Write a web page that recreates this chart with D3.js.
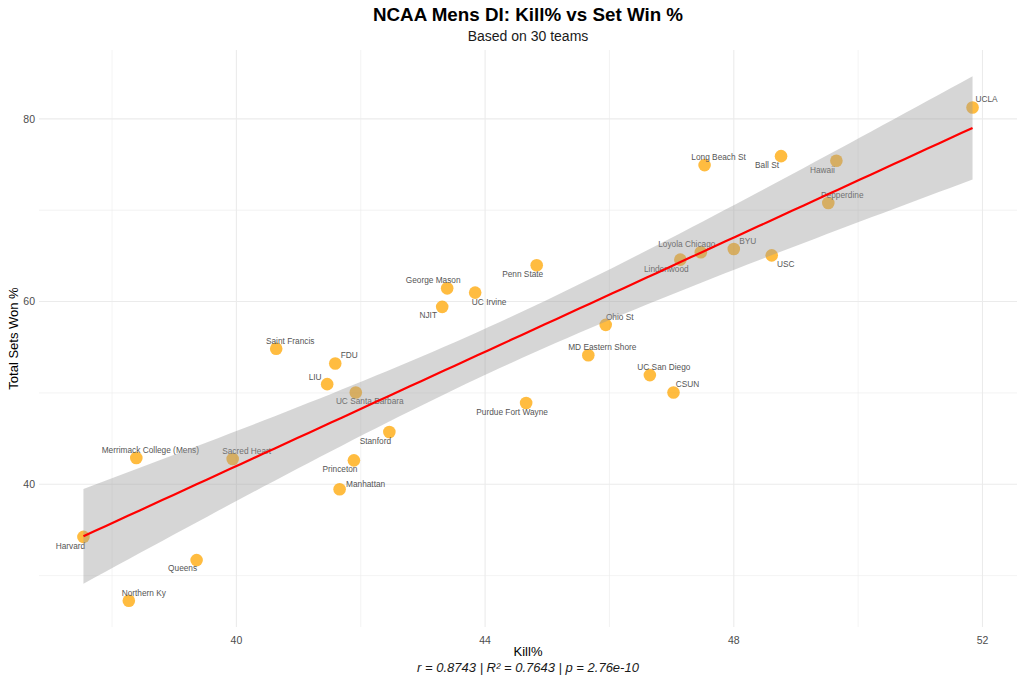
<!DOCTYPE html>
<html>
<head>
<meta charset="utf-8">
<script src="https://cdn.jsdelivr.net/npm/d3@7"></script>
<style>
  body { margin: 0; background: #fff; }
  text { font-family: "Liberation Sans", Arial, sans-serif; }
</style>
</head>
<body>
<svg id="chart"></svg>
<script>
const width = 1024;
const height = 683;

// Data
const teams = [
  "Harvard", "Merrimack College (Mens)", "Sacred Heart", "Queens", "Northern Ky",
  "Manhattan", "Princeton", "Stanford", "UC Santa Barbara", "Saint Francis",
  "FDU", "LIU", "NJIT", "George Mason", "UC Irvine",
  "Penn State", "Purdue Fort Wayne", "Ohio St", "MD Eastern Shore", "UC San Diego",
  "CSUN", "UCLA", "Long Beach St", "Ball St", "Hawaii",
  "Pepperdine", "BYU", "USC", "Loyola Chicago", "Lindenwood"
];
const killPct = [
  37.54, 38.39, 39.94, 39.36, 38.27,
  41.66, 41.89, 42.46, 41.92, 40.64,
  41.59, 41.46, 43.31, 43.39, 43.84,
  44.83, 44.66, 45.94, 45.66, 46.65,
  47.03, 51.84, 47.53, 48.76, 49.65,
  49.52, 48.00, 48.61, 47.47, 47.14
];
const setWinPct = [
  34.24, 42.87, 42.77, 31.70, 27.25,
  39.45, 42.62, 45.72, 50.05, 54.83,
  53.22, 50.96, 59.42, 61.45, 60.98,
  63.97, 48.89, 57.45, 54.13, 51.95,
  50.05, 81.24, 74.94, 75.92, 75.41,
  70.79, 65.76, 65.06, 65.40, 64.59
];
const xTicks = [40, 44, 48, 52];
const xMinor = [38, 42, 46, 50];
const yTicks = [40, 60, 80];
const yMinor = [30, 50, 70];

// label nudges (px), mimicking the repelled labels
const labelNudge = [
  [-13, 9], [14, -8], [14, -8], [-14, 8], [15, -8],
  [26, -5], [-14, 9], [-14, 9], [14, 9], [14, -8],
  [14, -8], [-12, -7], [-14, 8], [-14, -8], [14, 9],
  [-14, 9], [-14, 9], [14, -8], [14, -8], [14, -8],
  [14, -8], [14, -8], [14, -8], [-14, 9], [-14, 9],
  [14, -8], [14, -8], [14, 9], [-14, -8], [-14, 9]
];

const data = teams.map((t, i) => ({ team: t, x: killPct[i], y: setWinPct[i], nudge: labelNudge[i] }));

// linear fit with 95% confidence band
const n = data.length;
const xbar = d3.mean(data, d => d.x);
const ybar = d3.mean(data, d => d.y);
const sxx = d3.sum(data, d => (d.x - xbar) ** 2);
const sxy = d3.sum(data, d => (d.x - xbar) * (d.y - ybar));
const slope = sxy / sxx;
const intercept = ybar - slope * xbar;
const sse = d3.sum(data, d => (d.y - (intercept + slope * d.x)) ** 2);
const sigma = Math.sqrt(sse / (n - 2));
const tCrit = 2.0484; // t(0.975, 28)

const xExtent = d3.extent(data, d => d.x);
const band = d3.range(80).map(i => {
  const x = xExtent[0] + (xExtent[1] - xExtent[0]) * i / 79;
  const fit = intercept + slope * x;
  const se = sigma * Math.sqrt(1 / n + (x - xbar) ** 2 / sxx);
  return { x, fit, lo: fit - tCrit * se, hi: fit + tCrit * se };
});

// panel
const margin = { top: 50, right: 7, bottom: 56, left: 39 };
const svg = d3.select("#chart").attr("width", width).attr("height", height);

const expand = (lo, hi) => { const p = (hi - lo) * 0.05; return [lo - p, hi + p]; };
const yLo = Math.min(d3.min(data, d => d.y), d3.min(band, d => d.lo));
const yHi = Math.max(d3.max(data, d => d.y), d3.max(band, d => d.hi));

const x = d3.scaleLinear().domain(expand(xExtent[0], xExtent[1])).range([margin.left, width - margin.right]);
const y = d3.scaleLinear().domain(expand(yLo, yHi)).range([height - margin.bottom, margin.top]);

// gridlines
const grid = svg.append("g");
grid.selectAll(".xminor").data(xMinor).join("line")
  .attr("x1", d => x(d)).attr("x2", d => x(d))
  .attr("y1", margin.top).attr("y2", height - margin.bottom)
  .attr("stroke", "#ebebeb").attr("stroke-width", 0.6);
grid.selectAll(".yminor").data(yMinor).join("line")
  .attr("y1", d => y(d)).attr("y2", d => y(d))
  .attr("x1", margin.left).attr("x2", width - margin.right)
  .attr("stroke", "#ebebeb").attr("stroke-width", 0.6);
grid.selectAll(".xmajor").data(xTicks).join("line")
  .attr("x1", d => x(d)).attr("x2", d => x(d))
  .attr("y1", margin.top).attr("y2", height - margin.bottom)
  .attr("stroke", "#ebebeb").attr("stroke-width", 1.1);
grid.selectAll(".ymajor").data(yTicks).join("line")
  .attr("y1", d => y(d)).attr("y2", d => y(d))
  .attr("x1", margin.left).attr("x2", width - margin.right)
  .attr("stroke", "#ebebeb").attr("stroke-width", 1.1);

// axes labels (ticks)
svg.append("g").selectAll("text").data(xTicks).join("text")
  .attr("x", d => x(d)).attr("y", height - margin.bottom + 17)
  .attr("text-anchor", "middle").attr("font-size", "10.5px").attr("fill", "#4d4d4d")
  .text(d => d);
svg.append("g").selectAll("text").data(yTicks).join("text")
  .attr("x", margin.left - 4).attr("y", d => y(d) + 3.8)
  .attr("text-anchor", "end").attr("font-size", "10.5px").attr("fill", "#4d4d4d")
  .text(d => d);

// points
svg.append("g").selectAll("circle").data(data).join("circle")
  .attr("cx", d => x(d.x)).attr("cy", d => y(d.y)).attr("r", 6.3)
  .attr("fill", "#ffa500").attr("fill-opacity", 0.75);

// point labels
svg.append("g").selectAll("text").data(data).join("text")
  .attr("x", d => x(d.x) + d.nudge[0]).attr("y", d => y(d.y) + d.nudge[1] + 2.9)
  .attr("text-anchor", "middle").attr("font-size", "8.3px").attr("fill", "#555")
  .text(d => d.team);

// confidence band + fit line
svg.append("path").datum(band)
  .attr("d", d3.area().x(d => x(d.x)).y0(d => y(d.lo)).y1(d => y(d.hi)))
  .attr("fill", "#999999").attr("fill-opacity", 0.4);
svg.append("path").datum(band)
  .attr("d", d3.line().x(d => x(d.x)).y(d => y(d.fit)))
  .attr("fill", "none").attr("stroke", "red").attr("stroke-width", 2.2);

// titles
const cx = (margin.left + width - margin.right) / 2;
svg.append("text").attr("x", cx).attr("y", 21).attr("text-anchor", "middle")
  .attr("font-size", "18.8px").attr("font-weight", "bold").attr("fill", "#000")
  .text("NCAA Mens DI: Kill% vs Set Win %");
svg.append("text").attr("x", cx).attr("y", 41).attr("text-anchor", "middle")
  .attr("font-size", "14px").attr("fill", "#1a1a1a")
  .text("Based on 30 teams");
svg.append("text").attr("x", cx).attr("y", 656).attr("text-anchor", "middle")
  .attr("font-size", "13px").attr("fill", "#000")
  .text("Kill%");
svg.append("text").attr("x", cx).attr("y", 672).attr("text-anchor", "middle")
  .attr("font-size", "13px").attr("font-style", "italic").attr("fill", "#1a1a1a")
  .text("r = 0.8743 | R² = 0.7643 | p = 2.76e-10");
svg.append("text").attr("transform", `translate(18,${(margin.top + height - margin.bottom) / 2}) rotate(-90)`)
  .attr("text-anchor", "middle").attr("font-size", "13px").attr("fill", "#000")
  .text("Total Sets Won %");
</script>
</body>
</html>
